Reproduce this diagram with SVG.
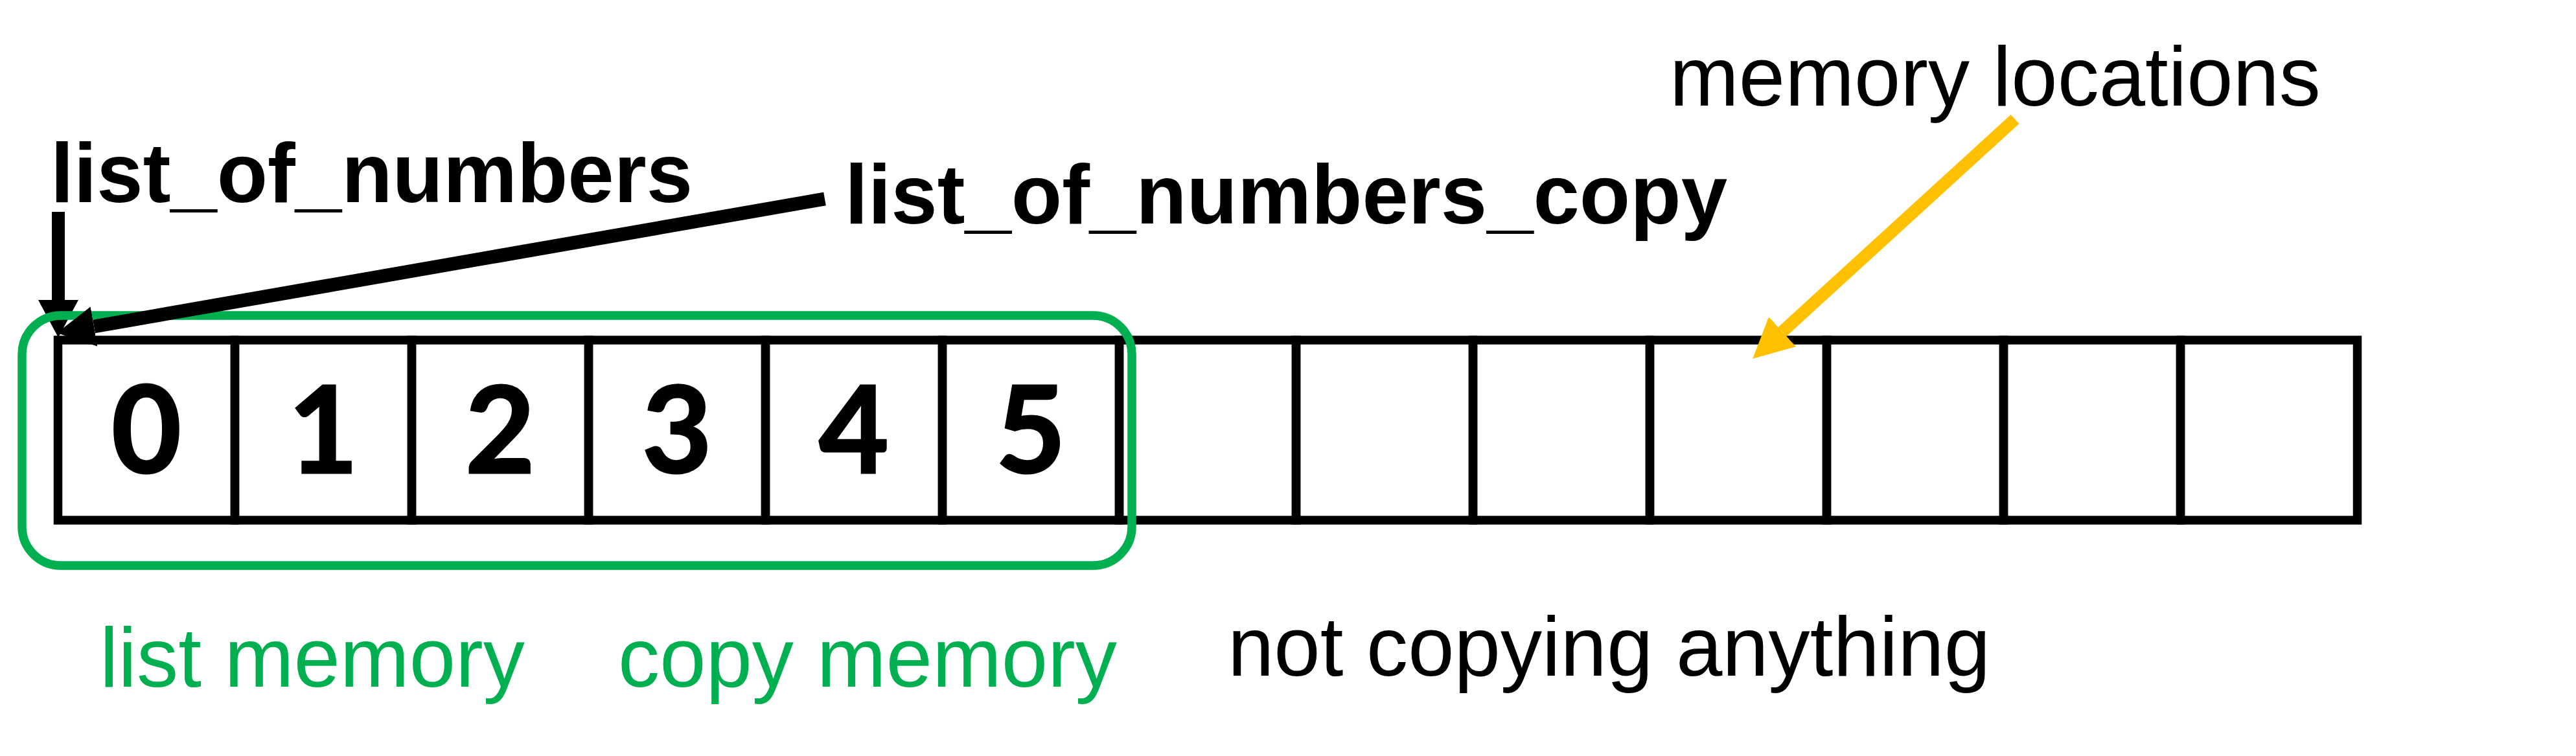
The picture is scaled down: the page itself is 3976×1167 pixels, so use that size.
<svg xmlns="http://www.w3.org/2000/svg" width="3976" height="1167" viewBox="0 0 3976 1167">
<style>
.cell{fill:none;stroke:#000;stroke-width:13.5}
.digit{font-family:Lato,"Liberation Sans",sans-serif;font-weight:bold;font-size:186px;fill:#000;stroke:#000;stroke-width:3;text-anchor:middle}
.bold{font-family:"Liberation Sans",Arial,sans-serif;font-weight:bold;font-size:130px;fill:#000}
.reg{font-family:"Liberation Sans",Arial,sans-serif;font-size:130px;fill:#000}
.green{fill:#00B050}
.blk{stroke:#000;fill:none;stroke-linecap:butt}
.ylw{stroke:#FFC000;fill:none;stroke-linecap:butt}
</style>
<defs>
<marker id="headBlack" markerUnits="userSpaceOnUse" markerWidth="58" markerHeight="62" viewBox="0 0 58 62" refX="0" refY="31" orient="auto"><path d="M0,0 L58,31 L0,62 z" fill="#000"/></marker>
<marker id="headYellow" markerUnits="userSpaceOnUse" markerWidth="62" markerHeight="62" viewBox="0 0 62 62" refX="0" refY="31" orient="auto"><path d="M0,0 L62,31 L0,62 z" fill="#FFC000"/></marker>
</defs>
<rect width="3976" height="1167" fill="#fff"/>

<g id="label-list_of_numbers"><text class="bold" x="78" y="312" textLength="991" lengthAdjust="spacingAndGlyphs">list_of_numbers</text></g>
<g id="label-list_of_numbers_copy"><text class="bold" x="1304" y="345" textLength="1362" lengthAdjust="spacingAndGlyphs">list_of_numbers_copy</text></g>
<g id="label-memory-locations"><text class="reg" x="2577" y="163" textLength="1005" lengthAdjust="spacingAndGlyphs">memory locations</text></g>

<g id="connector-vertical"><line class="blk" x1="90" y1="327" x2="90" y2="463" stroke-width="20" marker-end="url(#headBlack)"/></g>

<g id="memory">
<g id="cell-0"><rect class="cell" x="89.5" y="525" width="273" height="278"/><text class="digit" x="226" y="730">0</text></g>
<g id="cell-1"><rect class="cell" x="362.5" y="525" width="273" height="278"/><text class="digit" x="499" y="730">1</text></g>
<g id="cell-2"><rect class="cell" x="635.5" y="525" width="273" height="278"/><text class="digit" x="772" y="730">2</text></g>
<g id="cell-3"><rect class="cell" x="908.5" y="525" width="273" height="278"/><text class="digit" x="1045" y="730">3</text></g>
<g id="cell-4"><rect class="cell" x="1181.5" y="525" width="273" height="278"/><text class="digit" x="1318" y="730">4</text></g>
<g id="cell-5"><rect class="cell" x="1454.5" y="525" width="273" height="278"/><text class="digit" x="1591" y="730">5</text></g>
<g id="cell-6"><rect class="cell" x="1727.5" y="525" width="273" height="278"/></g>
<g id="cell-7"><rect class="cell" x="2000.5" y="525" width="273" height="278"/></g>
<g id="cell-8"><rect class="cell" x="2273.5" y="525" width="273" height="278"/></g>
<g id="cell-9"><rect class="cell" x="2546.5" y="525" width="273" height="278"/></g>
<g id="cell-10"><rect class="cell" x="2819.5" y="525" width="273" height="278"/></g>
<g id="cell-11"><rect class="cell" x="3092.5" y="525" width="273" height="278"/></g>
<g id="cell-12"><rect class="cell" x="3365.5" y="525" width="273" height="278"/></g>
</g>

<g id="group-copied"><rect x="34" y="487" width="1713" height="386" rx="60" ry="60" fill="none" stroke="#00B050" stroke-width="13.5"/></g>

<g id="connectors">
<line class="blk" x1="1273" y1="307" x2="145" y2="504" stroke-width="21" marker-end="url(#headBlack)"/>
<line class="ylw" x1="3110" y1="184" x2="2751" y2="512" stroke-width="19" marker-end="url(#headYellow)"/>
</g>

<g id="label-list-memory"><text class="reg green" x="154" y="1060" textLength="656" lengthAdjust="spacingAndGlyphs">list memory</text></g>
<g id="label-copy-memory"><text class="reg green" x="954" y="1060" textLength="770" lengthAdjust="spacingAndGlyphs">copy memory</text></g>
<g id="label-not-copying"><text class="reg" x="1895" y="1043" textLength="1177" lengthAdjust="spacingAndGlyphs">not copying anything</text></g>
</svg>
